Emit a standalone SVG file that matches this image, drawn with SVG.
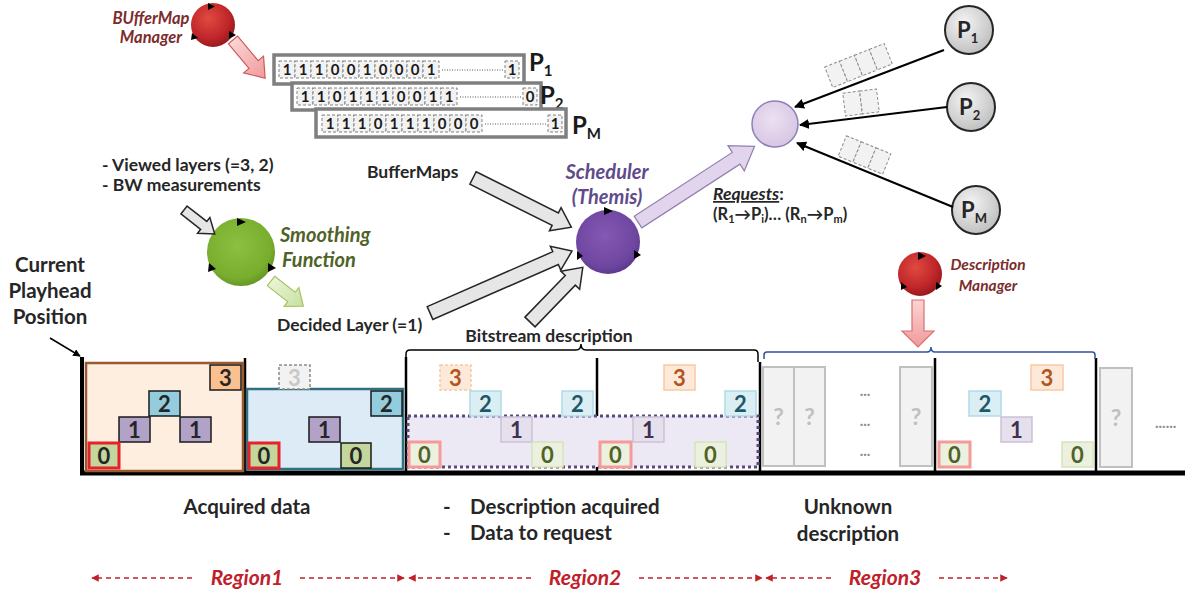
<svg xmlns="http://www.w3.org/2000/svg" width="1193" height="590" viewBox="0 0 1193 590">
<style>
text{font-family:Lato,"Open Sans","Liberation Sans",sans-serif;font-weight:bold;}
.lbl{font-size:17.5px;fill:#262626;}
.big{font-size:20.5px;fill:#262626;}
.it{font-style:italic;}
.bt{font-size:22px;text-anchor:middle;fill:#262626;}
.k3{fill:#fac090;stroke:#1a1a1a;stroke-width:1.5;}
.k2{fill:#93cddd;stroke:#1a1a1a;stroke-width:1.5;}
.k1{fill:#b3a2c7;stroke:#1a1a1a;stroke-width:1.5;}
.k0{fill:#c3d69b;stroke:#1a1a1a;stroke-width:1.5;}
.kr{fill:#c3d69b;stroke:#e8202a;stroke-width:3;}
.f3{fill:#fde9d9;stroke:#fac8a0;stroke-width:1.5;}
.f2{fill:#dbeef4;stroke:#b0dbe8;stroke-width:1.5;}
.f1{fill:#e5e0ec;stroke:#cbc0da;stroke-width:1.5;}
.f0{fill:#ebf1de;stroke:#d5e4bb;stroke-width:1.5;}
.fr{fill:#ebf1de;stroke:#f49a9a;stroke-width:3;}
.t3{fill:#b0561e;} .t2{fill:#205868;} .t1{fill:#3f3151;} .t0{fill:#4f6228;}
.q{fill:#f2f2f2;stroke:#c0c0c0;stroke-width:2;}
.qt{font-size:23px;fill:#c0c0c0;text-anchor:middle;}
.cell{fill:#f2f2f2;stroke:#808080;stroke-width:1;stroke-dasharray:3,2;}
.ct{font-size:15px;fill:#1a1a1a;text-anchor:middle;}
.map{fill:#ffffff;stroke:#7f7f7f;stroke-width:3.5;}
.pkt{fill:#f2f2f2;stroke:#8c8c8c;stroke-width:1;stroke-dasharray:3,2;}
.vl{stroke:#000;stroke-width:2.5;}
.reg{fill:#c0202a;font-size:21px;font-style:italic;text-anchor:middle;}
.rd{stroke:#c0202a;stroke-width:1.5;stroke-dasharray:5,4;fill:none;}
.gar{fill:#e6e6e6;stroke:#262626;stroke-width:1.5;}
.tri{fill:#000;}
</style>
<defs>
<marker id="ah" viewBox="0 0 10 10" refX="9" refY="5" markerWidth="5" markerHeight="5" orient="auto"><path d="M0,0 L10,5 L0,10 Z" fill="#000"/></marker>
<marker id="ra" viewBox="0 0 10 10" refX="9" refY="5" markerWidth="5" markerHeight="5" orient="auto"><path d="M0,0 L10,5 L0,10 Z" fill="#c0202a"/></marker>
<radialGradient id="gRed" cx="40%" cy="35%" r="65%"><stop offset="0" stop-color="#e04a40"/><stop offset="0.7" stop-color="#c0262a"/><stop offset="1" stop-color="#9a1a1e"/></radialGradient>
<radialGradient id="gGreen" cx="45%" cy="40%" r="65%"><stop offset="0" stop-color="#8cc040"/><stop offset="0.75" stop-color="#78ad2e"/><stop offset="1" stop-color="#5f8f22"/></radialGradient>
<radialGradient id="gPurp" cx="45%" cy="40%" r="65%"><stop offset="0" stop-color="#8458b4"/><stop offset="0.75" stop-color="#6e46a0"/><stop offset="1" stop-color="#583488"/></radialGradient>
<radialGradient id="gLav" cx="45%" cy="40%" r="65%"><stop offset="0" stop-color="#ece0f2"/><stop offset="1" stop-color="#d6c4e2"/></radialGradient>
<radialGradient id="gGray" cx="40%" cy="35%" r="70%"><stop offset="0" stop-color="#f4f4f4"/><stop offset="1" stop-color="#bdbdbd"/></radialGradient>
<linearGradient id="gPink" x1="0" y1="0" x2="1" y2="0"><stop offset="0" stop-color="#fbd4d4"/><stop offset="1" stop-color="#f19a9a"/></linearGradient>
<linearGradient id="gLG" x1="0" y1="0" x2="1" y2="0"><stop offset="0" stop-color="#eaf4d6"/><stop offset="1" stop-color="#c8e0a0"/></linearGradient>
</defs>

<!-- timeline structure -->
<g id="timeline">
<line x1="80" y1="473" x2="1185" y2="473" stroke="#000" stroke-width="5"/>
<line x1="82" y1="357" x2="82" y2="473" stroke="#000" stroke-width="4"/>
<line class="vl" x1="245" y1="358" x2="245" y2="472"/>
<line class="vl" x1="406" y1="357" x2="406" y2="472"/>
<line class="vl" x1="597" y1="358" x2="597" y2="472"/>
<line class="vl" x1="760" y1="362" x2="760" y2="472"/>
<line class="vl" x1="935" y1="358" x2="935" y2="472"/>
<line class="vl" x1="1096" y1="358" x2="1096" y2="472"/>
</g>

<!-- Region 1 -->
<g id="region1-box1">
<rect x="86" y="363" width="157" height="108" fill="#fdeee0" stroke="#9a5a30" stroke-width="2.5"/>
<rect class="k3" x="210" y="365" width="31" height="25"/><text class="bt" x="225.5" y="385.5">3</text>
<rect class="k2" x="149" y="391" width="31" height="25"/><text class="bt" x="164.5" y="411.5">2</text>
<rect class="k1" x="119" y="417" width="31" height="25"/><text class="bt" x="134.5" y="437.5">1</text>
<rect class="k1" x="180" y="417" width="31" height="25"/><text class="bt" x="195.5" y="437.5">1</text>
<rect class="kr" x="89" y="443" width="30" height="25"/><text class="bt" x="104" y="463.5">0</text>
</g>
<g id="region1-box2">
<rect x="247" y="389" width="156" height="80" fill="#dcebf6" stroke="#31707f" stroke-width="2.5"/>
<rect x="279" y="365" width="31" height="24" fill="#f2f2f2" stroke="#8c8c8c" stroke-width="1.5" stroke-dasharray="3,2"/><text class="bt" x="294.5" y="385.5" style="fill:#c8c8c8">3</text>
<rect class="k2" x="371" y="391" width="31" height="25"/><text class="bt" x="386.5" y="411.5">2</text>
<rect class="k1" x="309" y="417" width="31" height="25"/><text class="bt" x="324.5" y="437.5">1</text>
<rect class="kr" x="249" y="443" width="30" height="25"/><text class="bt" x="264" y="463.5">0</text>
<rect class="k0" x="341" y="443" width="30" height="25"/><text class="bt" x="356" y="463.5">0</text>
</g>

<!-- Region 2 -->
<g id="region2">
<path d="M406,359 V354 Q406,350 410,350 H576 Q581,350 581,344 Q581,350 586,350 H754 Q758,350 758,354 V362" fill="none" stroke="#000" stroke-width="1.5"/>
<text class="lbl" x="549" y="342" text-anchor="middle">Bitstream description</text>
<rect x="408" y="416" width="350" height="51" fill="#ece8f4" stroke="#604a7b" stroke-width="3" stroke-dasharray="3,3"/>
<rect class="f3" x="440" y="365" width="31" height="25" stroke-dasharray="3,2"/><text class="bt t3" x="455.5" y="385.5">3</text>
<rect class="f2" x="470" y="391" width="31" height="25"/><text class="bt t2" x="485.5" y="411.5">2</text>
<rect class="f2" x="562" y="391" width="31" height="25"/><text class="bt t2" x="577.5" y="411.5">2</text>
<rect class="f1" x="501" y="417" width="31" height="25"/><text class="bt t1" x="516.5" y="437.5">1</text>
<rect class="fr" x="409" y="442" width="31" height="25"/><text class="bt t0" x="424.5" y="462.5">0</text>
<rect class="f0" x="532" y="442" width="31" height="25"/><text class="bt t0" x="547.5" y="462.5">0</text>
<rect class="f3" x="664" y="365" width="31" height="25"/><text class="bt t3" x="679.5" y="385.5">3</text>
<rect class="f2" x="725" y="391" width="31" height="25"/><text class="bt t2" x="740.5" y="411.5">2</text>
<rect class="f1" x="633" y="417" width="31" height="25"/><text class="bt t1" x="648.5" y="437.5">1</text>
<rect class="fr" x="600" y="442" width="31" height="25"/><text class="bt t0" x="615.5" y="462.5">0</text>
<rect class="f0" x="695" y="442" width="31" height="25"/><text class="bt t0" x="710.5" y="462.5">0</text>
</g>

<!-- Region 3 -->
<g id="region3">
<path d="M764,359 V355 Q764,352 767,352 H927 Q931,352 931,347 Q931,352 935,352 H1092 Q1095,352 1095,355 V359" fill="none" stroke="#2f52a0" stroke-width="1.5"/>
<rect class="q" x="763" y="367" width="31" height="99"/><text class="qt" x="778.5" y="425">?</text>
<rect class="q" x="794" y="367" width="31" height="99"/><text class="qt" x="809.5" y="425">?</text>
<text x="865" y="396" font-size="15" fill="#8c8c8c" text-anchor="middle">...</text>
<text x="865" y="426" font-size="15" fill="#8c8c8c" text-anchor="middle">...</text>
<text x="865" y="456" font-size="15" fill="#8c8c8c" text-anchor="middle">...</text>
<rect class="q" x="900" y="367" width="32" height="99"/><text class="qt" x="916" y="425">?</text>
<rect class="f3" x="1031" y="365" width="32" height="25"/><text class="bt t3" x="1047" y="385.5">3</text>
<rect class="f2" x="969" y="391" width="32" height="25"/><text class="bt t2" x="985" y="411.5">2</text>
<rect class="f1" x="1001" y="417" width="31" height="25"/><text class="bt t1" x="1016.5" y="437.5">1</text>
<rect class="fr" x="939" y="442" width="31" height="25"/><text class="bt t0" x="954.5" y="462.5">0</text>
<rect class="f0" x="1062" y="442" width="31" height="25"/><text class="bt t0" x="1077.5" y="462.5">0</text>
<rect class="q" x="1100" y="368" width="32" height="99"/><text class="qt" x="1116" y="426">?</text>
<text x="1155" y="428" font-size="15" fill="#8c8c8c">......</text>
</g>

<!-- Labels -->
<g id="playhead">
<text class="big" x="50" y="272" text-anchor="middle" font-size="21">Current</text>
<text class="big" x="50" y="298" text-anchor="middle">Playhead</text>
<text class="big" x="50" y="324" text-anchor="middle">Position</text>
</g>
<g id="bottom-labels">
<text class="big" x="247" y="514" text-anchor="middle">Acquired data</text>
<text class="big" x="443" y="514">-</text>
<text class="big" x="470" y="514">Description acquired</text>
<text class="big" x="443" y="540">-</text>
<text class="big" x="470" y="540">Data to request</text>
<text class="big" x="848" y="514" text-anchor="middle">Unknown</text>
<text class="big" x="848" y="541" text-anchor="middle">description</text>
</g>
<g id="regions">
<text class="reg" x="247" y="585">Region1</text>
<text class="reg" x="585" y="585">Region2</text>
<text class="reg" x="885" y="585">Region3</text>
</g>

<!-- BufferMap Manager -->
<g id="buffermap-manager">
<circle cx="213" cy="25" r="22" fill="url(#gRed)"/>
<path class="tri" d="M208,3 L215,6.5 L208,10 Z"/>
<path class="tri" d="M192,33 L198,38 L191,40 Z"/>
<path class="tri" d="M229,31 L236,35 L229,39 Z"/>
<text x="151" y="24" font-size="16.5" class="it" fill="#7b2c2c" text-anchor="middle">BUfferMap</text>
<text x="151" y="43" font-size="16.5" class="it" fill="#7b2c2c" text-anchor="middle">Manager</text>
</g>

<!-- BufferMaps -->
<g id="buffermap-1">
<rect class="map" x="274" y="55" width="250" height="29"/>
<g transform="translate(279,61)">
<rect class="cell" x="0" y="0" width="16" height="17"/><text class="ct" x="8" y="14">1</text>
<rect class="cell" x="16" y="0" width="16" height="17"/><text class="ct" x="24" y="14">1</text>
<rect class="cell" x="32" y="0" width="16" height="17"/><text class="ct" x="40" y="14">1</text>
<rect class="cell" x="48" y="0" width="16" height="17"/><text class="ct" x="56" y="14">0</text>
<rect class="cell" x="64" y="0" width="16" height="17"/><text class="ct" x="72" y="14">0</text>
<rect class="cell" x="80" y="0" width="16" height="17"/><text class="ct" x="88" y="14">1</text>
<rect class="cell" x="96" y="0" width="16" height="17"/><text class="ct" x="104" y="14">0</text>
<rect class="cell" x="112" y="0" width="16" height="17"/><text class="ct" x="120" y="14">0</text>
<rect class="cell" x="128" y="0" width="16" height="17"/><text class="ct" x="136" y="14">0</text>
<rect class="cell" x="144" y="0" width="16" height="17"/><text class="ct" x="152" y="14">1</text>
<line x1="163" y1="9" x2="224" y2="9" stroke="#555" stroke-width="1" stroke-dasharray="1,1.5"/>
<rect class="cell" x="226" y="0" width="14" height="17"/><text class="ct" x="233" y="14">1</text>
</g>
<text x="529" y="71" font-size="24" fill="#1a1a1a">P<tspan font-size="15" dy="5">1</tspan></text>
</g>
<g id="buffermap-2">
<rect class="map" x="292" y="83" width="249" height="27"/>
<g transform="translate(297,88)">
<rect class="cell" x="0" y="0" width="16" height="17"/><text class="ct" x="8" y="14">1</text>
<rect class="cell" x="16" y="0" width="16" height="17"/><text class="ct" x="24" y="14">1</text>
<rect class="cell" x="32" y="0" width="16" height="17"/><text class="ct" x="40" y="14">0</text>
<rect class="cell" x="48" y="0" width="16" height="17"/><text class="ct" x="56" y="14">1</text>
<rect class="cell" x="64" y="0" width="16" height="17"/><text class="ct" x="72" y="14">1</text>
<rect class="cell" x="80" y="0" width="16" height="17"/><text class="ct" x="88" y="14">1</text>
<rect class="cell" x="96" y="0" width="16" height="17"/><text class="ct" x="104" y="14">0</text>
<rect class="cell" x="112" y="0" width="16" height="17"/><text class="ct" x="120" y="14">0</text>
<rect class="cell" x="128" y="0" width="16" height="17"/><text class="ct" x="136" y="14">1</text>
<rect class="cell" x="144" y="0" width="16" height="17"/><text class="ct" x="152" y="14">1</text>
<line x1="163" y1="9" x2="224" y2="9" stroke="#555" stroke-width="1" stroke-dasharray="1,1.5"/>
<rect class="cell" x="226" y="0" width="14" height="17"/><text class="ct" x="233" y="14">0</text>
</g>
<text x="540" y="104" font-size="24" fill="#1a1a1a">P<tspan font-size="15" dy="5">2</tspan></text>
</g>
<g id="buffermap-m">
<rect class="map" x="316" y="109" width="250" height="28"/>
<g transform="translate(322,115)">
<rect class="cell" x="0" y="0" width="16" height="17"/><text class="ct" x="8" y="14">1</text>
<rect class="cell" x="16" y="0" width="16" height="17"/><text class="ct" x="24" y="14">1</text>
<rect class="cell" x="32" y="0" width="16" height="17"/><text class="ct" x="40" y="14">1</text>
<rect class="cell" x="48" y="0" width="16" height="17"/><text class="ct" x="56" y="14">0</text>
<rect class="cell" x="64" y="0" width="16" height="17"/><text class="ct" x="72" y="14">1</text>
<rect class="cell" x="80" y="0" width="16" height="17"/><text class="ct" x="88" y="14">1</text>
<rect class="cell" x="96" y="0" width="16" height="17"/><text class="ct" x="104" y="14">1</text>
<rect class="cell" x="112" y="0" width="16" height="17"/><text class="ct" x="120" y="14">0</text>
<rect class="cell" x="128" y="0" width="16" height="17"/><text class="ct" x="136" y="14">0</text>
<rect class="cell" x="144" y="0" width="16" height="17"/><text class="ct" x="152" y="14">0</text>
<line x1="163" y1="9" x2="224" y2="9" stroke="#555" stroke-width="1" stroke-dasharray="1,1.5"/>
<rect class="cell" x="226" y="0" width="14" height="17"/><text class="ct" x="233" y="14">1</text>
</g>
<text x="572" y="134" font-size="24" fill="#1a1a1a">P<tspan font-size="15" dy="5">M</tspan></text>
</g>

<!-- Smoothing function -->
<g id="smoothing">
<circle cx="241" cy="252" r="34" fill="url(#gGreen)"/>
<path class="tri" d="M237,218 L246,222 L237,226 Z"/>
<path class="tri" d="M209,263 L216,269 L208,272 Z"/>
<path class="tri" d="M268,263 L276,268 L268,272 Z"/>
<text x="280" y="242" font-size="20" class="it" fill="#4f6228">Smoothing</text>
<text x="282" y="267" font-size="20" class="it" fill="#4f6228">Function</text>
</g>
<g id="inputs">
<text class="lbl" x="102" y="171" font-size="18.5">- Viewed layers (=3, 2)</text>
<text class="lbl" x="102" y="191">- BW measurements</text>
<text class="lbl" x="277" y="331">Decided Layer (=1)</text>
<text class="lbl" x="367" y="178">BufferMaps</text>
</g>

<!-- Scheduler -->
<g id="scheduler">
<circle cx="608" cy="242" r="32" fill="url(#gPurp)"/>
<path class="tri" d="M604,207 L613,211 L604,215 Z"/>
<path class="tri" d="M577,251 L583,256 L577,260 Z"/>
<path class="tri" d="M634,250 L641,255 L634,259 Z"/>
<text x="607" y="179" font-size="20" class="it" fill="#5f4a8b" text-anchor="middle">Scheduler</text>
<text x="607" y="204" font-size="20" class="it" fill="#5f4a8b" text-anchor="middle">(Themis)</text>
</g>

<!-- Receiver and peers -->
<g id="receiver">
<circle cx="775" cy="124" r="23" fill="url(#gLav)" stroke="#8a80b8" stroke-width="1.5"/>
</g>
<g id="peer-1">
<circle cx="969" cy="30" r="24" fill="url(#gGray)" stroke="#262626" stroke-width="2"/>
<text x="957" y="38" font-size="22" fill="#262626">P<tspan font-size="13" dy="5">1</tspan></text>
</g>
<g id="peer-2">
<circle cx="971" cy="107" r="24" fill="url(#gGray)" stroke="#262626" stroke-width="2"/>
<text x="959" y="115" font-size="22" fill="#262626">P<tspan font-size="13" dy="5">2</tspan></text>
</g>
<g id="peer-m">
<circle cx="976" cy="210" r="24" fill="url(#gGray)" stroke="#262626" stroke-width="2"/>
<text x="961" y="218" font-size="22" fill="#262626">P<tspan font-size="13" dy="5">M</tspan></text>
</g>
<g id="requests">
<text x="713" y="200" font-size="17.5" fill="#262626"><tspan font-style="italic" text-decoration="underline">Requests</tspan>:</text>
<text x="713" y="220" font-size="16.5" fill="#262626">(R<tspan font-size="11" dy="3">1</tspan><tspan dy="-3">→P</tspan><tspan font-size="11" dy="3">i</tspan><tspan dy="-3">)… (R</tspan><tspan font-size="11" dy="3">n</tspan><tspan dy="-3">→P</tspan><tspan font-size="11" dy="3">m</tspan><tspan dy="-3">)</tspan></text>
</g>

<!-- Description manager -->
<g id="description-manager">
<circle cx="920" cy="274" r="22" fill="url(#gRed)"/>
<path class="tri" d="M918,252 L926,256 L918,260 Z"/>
<path class="tri" d="M901,282 L907,287 L901,290 Z"/>
<path class="tri" d="M936,282 L942,286 L936,290 Z"/>
<text x="988" y="270" font-size="15.5" class="it" fill="#7b2c2c" text-anchor="middle">Description</text>
<text x="988" y="291" font-size="15.5" class="it" fill="#7b2c2c" text-anchor="middle">Manager</text>
</g>

<!-- connectors -->
<g id="connectors">
<line x1="50" y1="338" x2="80" y2="356" stroke="#000" stroke-width="1.5" marker-end="url(#ah)"/>
<path transform="translate(233,40) rotate(50)" d="M0,-6 L32,-6 L32,-13 L50,0 L32,13 L32,6 L0,6 Z" fill="url(#gPink)" stroke="#d05858" stroke-width="1.2"/>
<path transform="translate(184,210) rotate(38)" d="M0,-5 L25,-5 L25,-10 L39,0 L25,10 L25,5 L0,5 Z" class="gar"/>
<path transform="translate(271,281) rotate(38)" d="M0,-6 L26,-6 L26,-12 L41,0 L26,12 L26,6 L0,6 Z" fill="url(#gLG)" stroke="#a6c468" stroke-width="1.2"/>
<path transform="translate(473,178) rotate(26.6)" d="M0,-7 L92,-7 L92,-13 L110,0 L92,13 L92,7 L0,7 Z" class="gar"/>
<path transform="translate(430,313) rotate(-23.6)" d="M0,-7 L137,-7 L137,-13 L155,0 L137,13 L137,7 L0,7 Z" class="gar"/>
<path transform="translate(530,322) rotate(-46)" d="M0,-7 L58,-7 L58,-13 L76,0 L58,13 L58,7 L0,7 Z" class="gar"/>
<path transform="translate(638,222) rotate(-33)" d="M0,-7 L117,-7 L117,-15 L139,0 L117,15 L117,7 L0,7 Z" fill="#e2d4ec" stroke="#9080b0" stroke-width="1.2"/>
<path transform="translate(918,300) rotate(90)" d="M0,-6 L31,-6 L31,-16 L47,0 L31,16 L31,6 L0,6 Z" fill="url(#gPink)" stroke="#d87070" stroke-width="1.2"/>
<line x1="944" y1="50" x2="795" y2="107" stroke="#000" stroke-width="2" marker-end="url(#ah)"/>
<line x1="947" y1="107" x2="800" y2="125" stroke="#000" stroke-width="2" marker-end="url(#ah)"/>
<line x1="953" y1="207" x2="797" y2="143" stroke="#000" stroke-width="2" marker-end="url(#ah)"/>
<g transform="translate(858.5,65.5) rotate(-21.5)">
<rect class="pkt" x="-32" y="-11" width="16" height="22"/><rect class="pkt" x="-16" y="-11" width="16" height="22"/><rect class="pkt" x="0" y="-11" width="16" height="22"/><rect class="pkt" x="16" y="-11" width="16" height="22"/>
</g>
<g transform="translate(861,102.5) rotate(-7)">
<rect class="pkt" x="-17" y="-11.5" width="17" height="23"/><rect class="pkt" x="0" y="-11.5" width="17" height="23"/>
</g>
<g transform="translate(864.5,155) rotate(22)">
<rect class="pkt" x="-24" y="-11" width="16" height="22"/><rect class="pkt" x="-8" y="-11" width="16" height="22"/><rect class="pkt" x="8" y="-11" width="16" height="22"/>
</g>
<line class="rd" x1="192" y1="578" x2="92" y2="578" marker-end="url(#ra)"/>
<line class="rd" x1="300" y1="578" x2="404" y2="578" marker-end="url(#ra)"/>
<line class="rd" x1="531" y1="578" x2="409" y2="578" marker-end="url(#ra)"/>
<line class="rd" x1="639" y1="578" x2="762" y2="578" marker-end="url(#ra)"/>
<line class="rd" x1="831" y1="578" x2="766" y2="578" marker-end="url(#ra)"/>
<line class="rd" x1="939" y1="578" x2="1007" y2="578" marker-end="url(#ra)"/>
</g>
</svg>
